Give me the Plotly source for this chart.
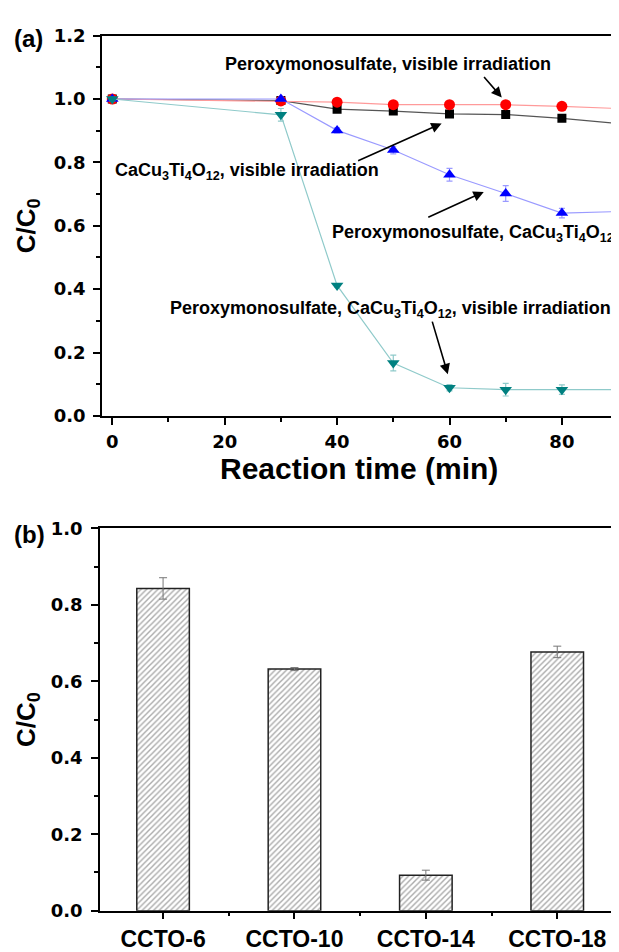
import plotly.graph_objects as go

# ---------------- data ----------------
time_min = [0, 30, 40, 50, 60, 70, 80, 90]
pms_vis = [1.0, 0.994, 0.990, 0.982, 0.982, 0.982, 0.977, 0.970]
pms_vis_err = [0.004, 0.004, 0.004, 0.004, 0.004, 0.004, 0.004, 0.004]
ccto_vis = [1.0, 0.995, 0.968, 0.962, 0.953, 0.951, 0.939, 0.923]
ccto_vis_err = [0.004, 0.004, 0.004, 0.004, 0.004, 0.004, 0.004, 0.004]
pms_ccto = [1.0, 1.0, 0.901, 0.839, 0.761, 0.702, 0.640, 0.645]
pms_ccto_err = [0.005, 0.005, 0.008, 0.012, 0.02, 0.025, 0.015, 0.015]
pms_ccto_vis = [1.0, 0.950, 0.412, 0.167, 0.089, 0.083, 0.083, 0.083]
pms_ccto_vis_err = [0.005, 0.02, 0.005, 0.025, 0.01, 0.02, 0.015, 0.01]

samples = ["CCTO-6", "CCTO-10", "CCTO-14", "CCTO-18"]
sample_pos = [0, 1, 2, 3]
ratio = [0.843, 0.632, 0.093, 0.677]
ratio_err = [0.028, 0.004, 0.013, 0.015]

FONT = "Liberation Sans, Arial, sans-serif"
NUMFONT = "DejaVu Sans, Liberation Sans, sans-serif"
# page body has an 8px margin: work in screen pixels and shift by OFF
OFF = 8
W, H = 619 - OFF, 952 - OFF

fig = go.Figure()

series = [
    (ccto_vis, ccto_vis_err, "#000000", "#555555", "square", 9),
    (pms_vis, pms_vis_err, "#ff0000", "#ff9a9a", "circle", 11),
    (pms_ccto, pms_ccto_err, "#0000ff", "#9a9aff", "triangle-up", 11),
    (pms_ccto_vis, pms_ccto_vis_err, "#008080", "#8fcaca", "triangle-down", 11),
]
for vals, err, mc, lc, sym, sz in series:
    fig.add_trace(go.Scatter(
        x=time_min, y=vals, mode="lines+markers",
        line=dict(color=lc, width=1.2),
        marker=dict(symbol=sym, size=sz, color=mc),
        error_y=dict(type="data", array=err, color=lc, thickness=1.2, width=3),
        xaxis="x", yaxis="y", showlegend=False, cliponaxis=True,
    ))

fig.add_trace(go.Bar(
    x=sample_pos, y=ratio, width=0.4,
    marker=dict(color="white", line=dict(color="#222222", width=1.5),
                pattern=dict(shape="/", fgcolor="#555555", bgcolor="white",
                             size=4, solidity=0.35)),
    error_y=dict(type="data", array=ratio_err, color="#777777", thickness=1, width=4),
    xaxis="x2", yaxis="y2", showlegend=False,
))

numfont = dict(family=NUMFONT, size=18, color="black", weight="bold")
catfont = dict(family=FONT, size=23, color="black", weight="bold")
axis_common = dict(showline=True, linecolor="black", linewidth=1.5,
                   ticks="outside", ticklen=7, tickwidth=1.5, tickcolor="black",
                   showgrid=False, zeroline=False)
minor_common = dict(ticks="outside", ticklen=4, tickwidth=1.5, tickcolor="black")

# screen-pixel frame of each panel
left_a, top_a, bot_a = 102, 25, 414
left_b, top_b, bot_b = 100, 529, 920


def px_x(p):
    return (p - OFF) / W


def px_y(p):
    return 1 - (p - OFF) / H


fig.update_layout(
    width=W, height=H, margin=dict(l=0, r=0, t=0, b=0),
    paper_bgcolor="white", plot_bgcolor="white",
    xaxis=dict(domain=[px_x(left_a), 1.0], range=[-1.83, 90.16], dtick=20, tick0=0,
               mirror=True, anchor="y", tickfont=numfont, ticklabelstandoff=2,
               minor=dict(dtick=10, **minor_common), **axis_common),
    yaxis=dict(domain=[px_y(bot_a), px_y(top_a)], range=[0, 1.2], dtick=0.2,
               tickformat=".1f", anchor="x", tickfont=numfont, ticklabelstandoff=4,
               minor=dict(dtick=0.1, **minor_common), **axis_common),
    xaxis2=dict(domain=[px_x(left_b), 1.0], range=[-0.48, 3.47], tickvals=sample_pos,
                ticktext=samples, mirror=True, anchor="y2", tickfont=catfont,
                minor=dict(dtick=0.5, **minor_common), **axis_common),
    yaxis2=dict(domain=[px_y(bot_b), px_y(top_b)], range=[0, 1.0], dtick=0.2,
                tickformat=".1f", anchor="x2", tickfont=numfont, ticklabelstandoff=5,
                minor=dict(dtick=0.1, **minor_common), **axis_common),
)

ann = []
bold = dict(family=FONT, color="black", weight="bold")
# panel labels
ann.append(dict(text="(a)", x=px_x(12), y=px_y(28), xref="paper", yref="paper",
                xanchor="left", yanchor="middle", showarrow=False, font=dict(size=24, **bold)))
ann.append(dict(text="(b)", x=px_x(12), y=px_y(535), xref="paper", yref="paper",
                xanchor="left", yanchor="middle", showarrow=False, font=dict(size=24, **bold)))
# axis titles
ann.append(dict(text="C/C<sub>0</sub>", x=px_x(27), y=px_y(220), xref="paper", yref="paper",
                textangle=-90, xanchor="center", yanchor="middle", showarrow=False,
                font=dict(size=26, **bold)))
ann.append(dict(text="C/C<sub>0</sub>", x=px_x(27), y=px_y(725), xref="paper", yref="paper",
                textangle=-90, xanchor="center", yanchor="middle", showarrow=False,
                font=dict(size=26, **bold)))
ann.append(dict(text="Reaction time (min)", x=px_x(359), y=px_y(468), xref="paper", yref="paper",
                xanchor="center", yanchor="middle", showarrow=False,
                font=dict(size=30, **bold)))

cct = "CaCu<sub>3</sub>Ti<sub>4</sub>O<sub>12</sub>"
labels = [
    ("Peroxymonosulfate, visible irradiation", 223, 54),
    (cct + ", visible irradiation", 113, 164),
    ("Peroxymonosulfate, " + cct, 330, 227),
    ("Peroxymonosulfate, " + cct + ", visible irradiation", 168, 305),
]
for txt, lx, ly in labels:
    ann.append(dict(text=txt, x=px_x(lx), y=px_y(ly), xref="paper", yref="paper",
                    xanchor="left", yanchor="middle", showarrow=False,
                    font=dict(size=18, **bold)))

# arrows (head in data coords, tail offset in pixels)
arrows = [
    (69.3, 1.005, -19, -22),
    (58.6, 0.923, -85, 38),
    (66.1, 0.707, -57, 26),
    (59.7, 0.132, -16, -54),
]
for hx, hy, axp, ayp in arrows:
    ann.append(dict(text="", x=hx, y=hy, xref="x", yref="y", ax=axp, ay=ayp,
                    showarrow=True, arrowhead=2, arrowsize=1.3, arrowwidth=1.6,
                    arrowcolor="black"))

fig.update_layout(annotations=ann)
fig.write_html("out.html")
